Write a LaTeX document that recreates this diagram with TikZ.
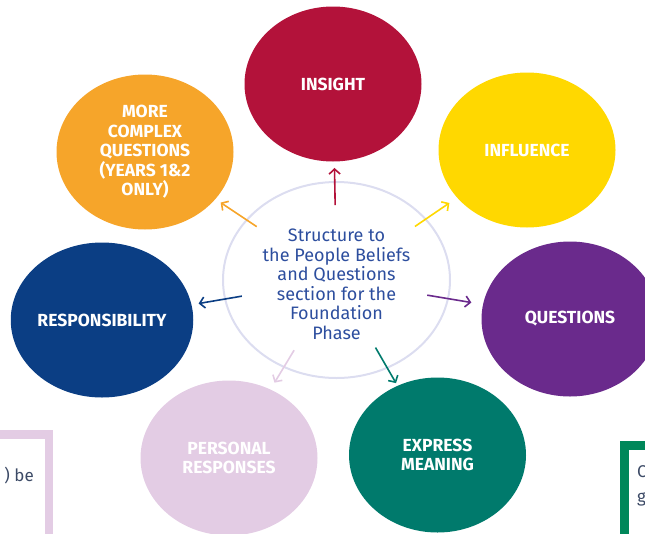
\documentclass[tikz,border=0pt]{standalone}
\usepackage{fontspec}
\setmainfont{Fira Sans}
\usetikzlibrary{shapes.geometric,arrows.meta}

\definecolor{insightred}{HTML}{B3123A}
\definecolor{influenceyellow}{HTML}{FFD800}
\definecolor{questionpurple}{HTML}{6A2A8C}
\definecolor{expressteal}{HTML}{007A6C}
\definecolor{personallilac}{HTML}{E3CCE4}
\definecolor{respnavy}{HTML}{0B3E84}
\definecolor{complexorange}{HTML}{F6A52A}
\definecolor{hubring}{HTML}{DCDDF0}
\definecolor{hubtext}{HTML}{2D4E9E}
\definecolor{boxgreen}{HTML}{00875A}
\definecolor{notetext}{HTML}{3C4A66}

\tikzset{
  petal/.style={ellipse, minimum width=177pt, minimum height=155pt, inner sep=0pt,
    text=white, align=center, font=\fontsize{17.5}{19.5}\selectfont\bfseries},
  hubstyle/.style={ellipse, draw=hubring, line width=2pt, minimum width=227pt,
    minimum height=196pt, inner sep=0pt},
  hubtextstyle/.style={text=hubtext, align=center, inner sep=0pt,
    font=\fontsize{18}{19.5}\selectfont},
  spoke/.style={line width=1.6pt, -{Straight Barb[length=5pt,width=11pt,line width=1.6pt]}},
  notestyle/.style={text=notetext, font=\fontsize{17}{25}\selectfont, inner sep=0pt}
}

\begin{document}
\begin{tikzpicture}[x=1pt,y=-1pt]

  \useasboundingbox (0,0) rectangle (645,533);
  \clip (0,0) rectangle (645,533);

  % side boxes, cut by the page
  \draw[personallilac, line width=8.5pt] (-10,434.5) -| (49,560);
  \draw[boxgreen, line width=9pt] (624,560) |- (670,445);
  \node[notestyle, anchor=base east] (leftnote) at (34,481) {) be};
  \node[notestyle, anchor=north west, align=left] (rightnote) at (637,465) {C\\g};

  % centre circle
  \node[hubstyle] (hub) at (336.5,280) {};
  \node[hubtextstyle] (hubtitle) at (336.5,284.5) {Structure to\\the People Beliefs\\and Questions\\section for the\\Foundation\\Phase};

  % draw the seven outer ellipses
  \foreach \nm/\pos/\col/\txt in {
    insight/{(333,84)}/insightred/{INSIGHT},
    influence/{(527,150)}/influenceyellow/{INFLUENCE},
    questions/{(570,319)}/questionpurple/{QUESTIONS},
    express/{(437.5,455)}/expressteal/{EXPRESS\\MEANING},
    personal/{(229,458)}/personallilac/{PERSONAL\\RESPONSES},
    responsib/{(102,320)}/respnavy/{RESPONSIBILITY},
    complex/{(145,152)}/complexorange/{MORE\\COMPLEX\\QUESTIONS\\(YEARS 1\&2\\ONLY)}} {
    \node[petal, fill=\col] (\nm) at \pos {\txt};
  };

  % arrows out of the centre
  \foreach \nm/\col/\a/\b in {
    insight/insightred/75/84,
    influence/influenceyellow/95/94,
    questions/questionpurple/92/100,
    express/expressteal/78/83,
    personal/personallilac/82/88,
    responsib/respnavy/96/98,
    complex/complexorange/96/91} {
    \draw[spoke, draw=\col, shorten <=\a pt, shorten >=\b pt] (hub.center) -- (\nm.center);
  };

\end{tikzpicture}
\end{document}
